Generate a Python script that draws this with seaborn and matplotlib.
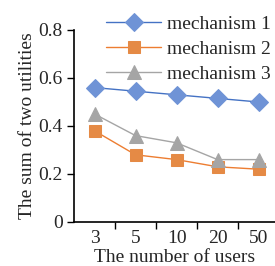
import matplotlib
matplotlib.use("Agg")
import matplotlib.pyplot as plt
import seaborn as sns
import pandas as pd
import numpy as np

categories = ["3", "5", "10", "20", "50"]
mech1 = [0.56, 0.545, 0.53, 0.515, 0.50]
mech2 = [0.38, 0.28, 0.26, 0.23, 0.22]
mech3 = [0.45, 0.36, 0.33, 0.26, 0.26]
series_names = ["mechanism 1", "mechanism 2", "mechanism 3"]

sns.set_style("ticks")
plt.rcParams['font.family'] = ['Liberation Serif', 'DejaVu Serif']
plt.rcParams['font.size'] = 14

rows = []
for name, vals in zip(series_names, [mech1, mech2, mech3]):
    for i, v in enumerate(vals):
        rows.append({"x": i, "value": v, "series": name})
df = pd.DataFrame(rows)

colors = {"mechanism 1": "#4472C4", "mechanism 2": "#ED7D31", "mechanism 3": "#A5A5A5"}
mcolors = {"mechanism 1": "#6F93D6", "mechanism 2": "#E58A45", "mechanism 3": "#A5A5A5"}
markers = {"mechanism 1": "D", "mechanism 2": "s", "mechanism 3": "^"}
msizes = {"mechanism 1": 9.5, "mechanism 2": 9, "mechanism 3": 10}

fig = plt.figure(figsize=(2.75, 2.66), dpi=100)
ax = fig.add_axes([74/275, 44/266, 1 - 74/275, (222-30)/266])

for name in series_names:
    sub = df[df.series == name]
    sns.lineplot(data=sub, x="x", y="value", ax=ax, color=colors[name], linewidth=1.0,
                 marker=markers[name], markersize=msizes[name], markerfacecolor=mcolors[name],
                 markeredgecolor=mcolors[name], label=name, sort=False)

ax.set_xlim(-0.5, 4.4)
ax.set_ylim(0, 0.8)
ax.set_yticks([0, 0.2, 0.4, 0.6, 0.8])
ax.set_yticklabels(["0", "0.2", "0.4", "0.6", "0.8"])
ax.set_xticks(range(5))
ax.set_xticklabels(categories)
ax.set_xticks([0.5, 1.5, 2.5, 3.5], minor=True)
ax.tick_params(axis='x', which='major', length=0, pad=6, labelsize=14)
ax.tick_params(axis='x', which='minor', length=5, width=1, direction='out', color='black')
ax.tick_params(axis='y', which='major', length=5, width=1, direction='out', color='black', labelsize=14, pad=3)
for s in ["top", "right"]:
    ax.spines[s].set_visible(False)
for s in ["left", "bottom"]:
    ax.spines[s].set_color("black")
    ax.spines[s].set_linewidth(1.2)

ax.set_xlabel("The number of users", fontsize=14, labelpad=1)
ax.set_ylabel("The sum of two utilities", fontsize=14, labelpad=2)

leg = ax.legend(loc='upper right', bbox_to_anchor=(1.005, 0.965), bbox_transform=fig.transFigure,
                frameon=False, handlelength=2.8, handletextpad=0.3, labelspacing=0.38,
                borderaxespad=0.1, borderpad=0.2, fontsize=14)

fig.savefig("out.png", dpi=100)
